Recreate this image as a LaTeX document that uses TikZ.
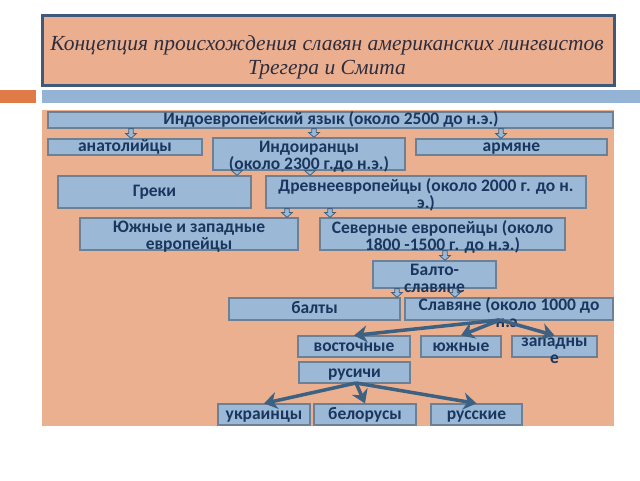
\documentclass[tikz,border=0pt]{standalone}
\usepackage{fontspec}
\setmainfont{Liberation Serif}
\newfontfamily\boxfont{Carlito}
\usetikzlibrary{arrows.meta,calc}
\definecolor{peach}{HTML}{EBB08F}
\definecolor{titlefill}{HTML}{EBAF8F}
\definecolor{titleedge}{HTML}{3E5A78}
\definecolor{orangebar}{HTML}{E07B48}
\definecolor{bluebar}{HTML}{95B3D5}
\definecolor{boxfill}{HTML}{9BB9D7}
\definecolor{boxedge}{HTML}{6C8096}
\definecolor{boxtext}{HTML}{1A365E}
\definecolor{arrowdark}{HTML}{3D6182}
\definecolor{titletext}{HTML}{2D2D40}
\tikzset{
  box/.style={draw=boxedge, fill=boxfill, line width=1.2pt, inner sep=0pt},
  lblbase/.style={font=\boxfont\bfseries\fontsize{17.5}{17}\selectfont, text=boxtext, inner sep=0pt},
  lbl/.style={lblbase, text height=9pt, text depth=0pt},
  lbltwo/.style={lblbase, align=center, yshift=-2.5pt},
  blkarrow/.style={draw=arrowdark, fill=boxfill, line width=0.8pt},
  thick arrow/.style={draw=arrowdark, line width=3.5pt, -{Stealth[length=13pt,width=17pt,inset=4pt]}}
}
\newcommand\blkarr[2]{\draw[blkarrow] let \p1=#1, \p2=#2 in
  (\x1-2.3pt,\y1) -- (\x1-2.3pt,\y2+5pt) -- (\x1-5.5pt,\y2+5pt) -- (\x1,\y2) --
  (\x1+5.5pt,\y2+5pt) -- (\x1+2.3pt,\y2+5pt) -- (\x1+2.3pt,\y1) -- cycle;}
\begin{document}
\begin{tikzpicture}[x=1pt,y=-1pt]
\useasboundingbox (0,0) rectangle (640,480);
\fill[white] (0,0) rectangle (640,480);
% title
\node[draw=titleedge, fill=titlefill, line width=3pt, minimum width=572pt, minimum height=70pt, inner sep=0pt] (title) at (328,50.5) {};
\node[font=\itshape\fontsize{21.5}{24}\selectfont, text=titletext, align=center, inner sep=0pt] (titletxt) at (327,57.5) {Концепция происхождения славян американских лингвистов\\Трегера и Смита};
\fill[orangebar] (0,90) rectangle (36,103);
\fill[bluebar] (42,90) rectangle (640,103);
\fill[peach] (42,110) rectangle (614,426);
% boxes
\node[box, minimum width=565pt, minimum height=16pt] (top) at (330.5,120) {};
\node[lbl] (top-t) at (331,120) {Индоевропейский язык (около 2500 до н.э.)};
\node[box, minimum width=154pt, minimum height=16pt] (anat) at (125,147) {};
\node[lbl] (anat-t) at (125,147) {анатолийцы};
\node[box, minimum width=192pt, minimum height=32pt] (indoir) at (309,154) {};
\node[lbltwo] (indoir-t) at (indoir) {Индоиранцы\\(около 2300 г.до н.э.)};
\node[box, minimum width=191pt, minimum height=16pt] (arm) at (511.5,147) {};
\node[lbl] (arm-t) at (511.5,147) {армяне};
\node[box, minimum width=193pt, minimum height=32pt] (greki) at (154.5,192) {};
\node[lbl] (greki-t) at (greki) {Греки};
\node[box, minimum width=320pt, minimum height=32pt] (drevn) at (426,192) {};
\node[lbltwo] (drevn-t) at (drevn) {Древнеевропейцы (около 2000 г. до н.\\э.)};
\node[box, minimum width=218pt, minimum height=32pt] (yuzh) at (189,234) {};
\node[lbltwo] (yuzh-t) at (yuzh) {Южные и западные\\европейцы};
\node[box, minimum width=245pt, minimum height=32pt] (sev) at (442.5,234) {};
\node[lbltwo] (sev-t) at (sev) {Северные европейцы (около\\1800 -1500 г. до н.э.)};
\node[box, minimum width=123pt, minimum height=27pt] (balto) at (434.5,274.5) {};
\node[lbltwo] (balto-t) at (434.5,276) {Балто-\\славяне};
\node[box, minimum width=171pt, minimum height=22pt] (balty) at (314.5,309) {};
\node[lbl] (balty-t) at (balty) {балты};
\node[box, minimum width=208pt, minimum height=22pt] (slav) at (509,309) {};
\node[lbltwo] (slav-t) at (509,310) {Славяне (около 1000 до\\н.э.};
\node[box, minimum width=112pt, minimum height=21pt] (vost) at (354,346.5) {};
\node[lbl] (vost-t) at (vost) {восточные};
\node[box, minimum width=80pt, minimum height=21pt] (yuzhn) at (461,346.5) {};
\node[lbl] (yuzhn-t) at (yuzhn) {южные};
\node[box, minimum width=85pt, minimum height=21pt] (zap) at (554.5,346.5) {};
\node[lbltwo] (zap-t) at (554.5,348) {западны\\е};
\node[box, minimum width=111pt, minimum height=21pt] (rusichi) at (354.5,372.5) {};
\node[lbl] (rusichi-t) at (rusichi) {русичи};
\node[box, minimum width=92pt, minimum height=21pt] (ukr) at (264,414.5) {};
\node[lbl] (ukr-t) at (ukr) {украинцы};
\node[box, minimum width=102pt, minimum height=21pt] (bel) at (365,414.5) {};
\node[lbl] (bel-t) at (bel) {белорусы};
\node[box, minimum width=91pt, minimum height=21pt] (rus) at (476.5,414.5) {};
\node[lbl] (rus-t) at (rus) {русские};
% small block arrows
\blkarr{(131,0 |- top.south)}{(131,0 |- anat.north)}
\blkarr{(314,0 |- top.south)}{(314,0 |- indoir.north)}
\blkarr{(501,0 |- top.south)}{(501,0 |- arm.north)}
\blkarr{(237,0 |- indoir.south)}{(237,0 |- greki.north)}
\blkarr{(310,0 |- indoir.south)}{(310,0 |- drevn.north)}
\blkarr{(287,0 |- drevn.south)}{(287,0 |- yuzh.north)}
\blkarr{(330,0 |- drevn.south)}{(330,0 |- sev.north)}
\blkarr{(445,0 |- sev.south)}{(445,0 |- balto.north)}
\blkarr{(397,0 |- balto.south)}{(397,0 |- balty.north)}
\blkarr{(455,0 |- balto.south)}{(455,0 |- slav.north)}
% thick arrows
\coordinate (s1) at (500,320);
\draw[thick arrow] (s1) -- (vost.north);
\draw[thick arrow] (s1) -- (yuzhn.north);
\draw[thick arrow] (s1) -- (zap.north);
\coordinate (s2) at (356,383);
\draw[thick arrow] (s2) -- (ukr.north);
\draw[thick arrow] (s2) -- (bel.north);
\draw[thick arrow] (s2) -- (rus.north);
\end{tikzpicture}
\end{document}
